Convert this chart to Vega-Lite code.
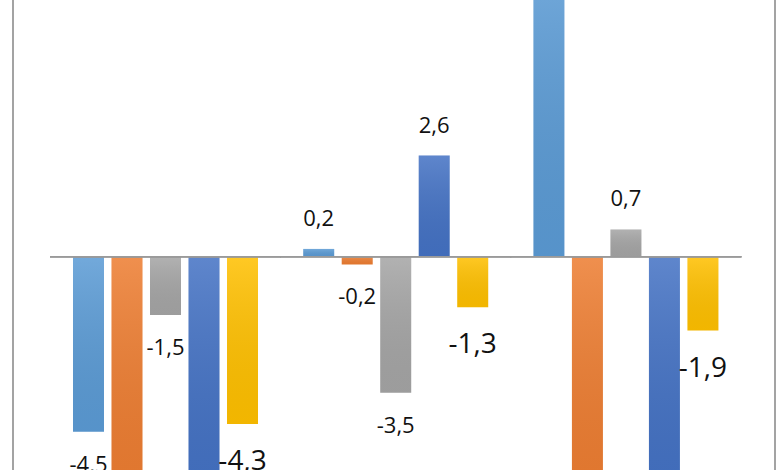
{
  "$schema": "https://vega.github.io/schema/vega-lite/v6.json",
  "width": 762,
  "height": 490,
  "autosize": {"type": "none"},
  "padding": {"left": 13, "top": -10, "right": 5, "bottom": 0},
  "background": "white",
  "config": {
    "view": {"stroke": "#a3a3a3", "strokeWidth": 2},
    "font": "Open Sans",
    "locale": {"number": {"decimal": ",", "thousands": ".", "grouping": [3], "currency": ["", " €"], "minus": "-"}}
  },
  "data": {
    "values": [
      {"group": "G1", "series": "s1", "value": -4.5},
      {"group": "G1", "series": "s2", "value": -6.2},
      {"group": "G1", "series": "s3", "value": -1.5},
      {"group": "G1", "series": "s4", "value": -6.0},
      {"group": "G1", "series": "s5", "value": -4.3},
      {"group": "G2", "series": "s1", "value": 0.2},
      {"group": "G2", "series": "s2", "value": -0.2},
      {"group": "G2", "series": "s3", "value": -3.5},
      {"group": "G2", "series": "s4", "value": 2.6},
      {"group": "G2", "series": "s5", "value": -1.3},
      {"group": "G3", "series": "s1", "value": 7.4},
      {"group": "G3", "series": "s2", "value": -6.3},
      {"group": "G3", "series": "s3", "value": 0.7},
      {"group": "G3", "series": "s4", "value": -6.0},
      {"group": "G3", "series": "s5", "value": -1.9}
    ]
  },
  "encoding": {
    "x": {"field": "group", "type": "nominal", "sort": null, "axis": null,
          "scale": {"paddingInner": 0, "paddingOuter": 0.155, "align": 0.524}},
    "y": {"field": "value", "type": "quantitative", "axis": null,
          "scale": {"domain": [-5.74, 6.856], "nice": false, "zero": false}}
  },
  "layer": [
    {
      "mark": {"type": "bar", "clip": true},
      "encoding": {
        "xOffset": {"field": "series", "type": "nominal", "sort": ["s1", "s2", "s3", "s4", "s5"],
                    "scale": {"paddingInner": 0.195, "paddingOuter": 0.587}},
        "color": {"field": "series", "type": "nominal", "legend": null,
                  "scale": {"domain": ["s1", "s2", "s3", "s4", "s5"],
                            "range": ["#5b9bd5", "#ed7d31", "#a5a5a5", "#4472c4", "#ffc000"]}}
      }
    },
    {
      "mark": {"type": "bar", "clip": true,
               "color": {"gradient": "linear", "x1": 0, "y1": 0, "x2": 0, "y2": 1,
                         "stops": [{"offset": 0, "color": "rgba(255,255,255,0.14)"},
                                   {"offset": 1, "color": "rgba(0,0,0,0.05)"}]}},
      "encoding": {
        "xOffset": {"field": "series", "type": "nominal", "sort": ["s1", "s2", "s3", "s4", "s5"]}
      }
    },
    {
      "mark": {"type": "tick", "size": 231, "thickness": 1.5, "color": "#9a9a9a"},
      "encoding": {"y": {"datum": 0}}
    },
    {
      "transform": [{"filter": "datum.value > 0 && datum.value < 6.5"}],
      "mark": {"type": "text", "dy": -30, "fontSize": 22, "color": "#111111"},
      "encoding": {
        "xOffset": {"field": "series", "type": "nominal", "sort": ["s1", "s2", "s3", "s4", "s5"]},
        "text": {"field": "value", "type": "quantitative", "format": ".1f"}
      }
    },
    {
      "transform": [{"filter": "datum.value < 0 && datum.value > -5.5 && datum.series != 's5'"}],
      "mark": {"type": "text", "dy": 33, "fontSize": 22, "color": "#111111"},
      "encoding": {
        "xOffset": {"field": "series", "type": "nominal", "sort": ["s1", "s2", "s3", "s4", "s5"]},
        "text": {"field": "value", "type": "quantitative", "format": ".1f"}
      }
    },
    {
      "transform": [{"filter": "datum.series == 's5'"}],
      "mark": {"type": "text", "dy": 38, "fontSize": 28, "color": "#111111"},
      "encoding": {
        "xOffset": {"field": "series", "type": "nominal", "sort": ["s1", "s2", "s3", "s4", "s5"]},
        "text": {"field": "value", "type": "quantitative", "format": ".1f"}
      }
    }
  ]
}
